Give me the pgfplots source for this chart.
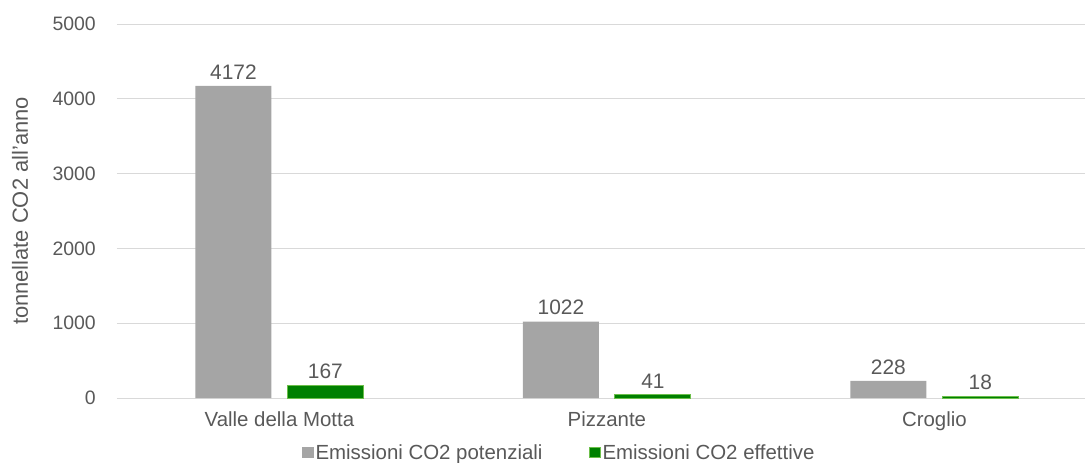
\documentclass[border=0pt]{standalone}
\usepackage{fontspec}
\setmainfont{Liberation Sans}
\usepackage{pgfplots}
\pgfplotsset{compat=1.18}
\definecolor{txt}{HTML}{595959}
\definecolor{gridc}{HTML}{D9D9D9}
\definecolor{barg}{HTML}{A5A5A5}
\definecolor{darkg}{HTML}{008000}
\definecolor{lightg}{HTML}{6CBF4A}
\begin{document}
\begin{tikzpicture}
\begin{axis}[
  at={(0,0)}, anchor=south west,
  scale only axis, width=968bp, height=374bp,
  xmin=-0.496, xmax=2.46, ymin=0, ymax=5000,
  ybar=16bp, bar width=76bp,
  ytick={0,1000,2000,3000,4000,5000},
  xtick={0,1,2},
  xticklabels={Valle della Motta,Pizzante,Croglio},
  axis line style={draw=none},
  major tick length=0pt,
  ymajorgrids, grid style={gridc, line width=1bp},
  /pgf/number format/1000 sep={},
  /pgf/number format/assume math mode=true,
  yticklabel style={font=\fontsize{19.5}{22}\selectfont, text=txt, anchor=east, inner sep=0pt, xshift=-21bp},
  xticklabel style={font=\fontsize{20.5}{23}\selectfont, text=txt, anchor=north, inner sep=0pt, yshift=-13bp},
  every axis y label/.style={at={(axis description cs:0,0.5)}, xshift=-97bp, anchor=center, rotate=90, font=\fontsize{22}{24}\selectfont, text=txt},
  ylabel={tonnellate CO2 all'anno},
  nodes near coords,
  every node near coord/.append style={font=\fontsize{21}{23}\selectfont, text=txt, yshift=3bp},
  legend columns=2,
  legend style={at={(0.4566,-0.147)}, anchor=center, draw=none, font=\fontsize{20.5}{22}\selectfont, text=txt,
    /tikz/every even column/.append style={column sep=44bp}, inner sep=0pt,
    nodes={inner sep=2bp}},
]
\addplot[fill=barg, draw=none, legend image code/.code={\fill[barg] (0bp,-5.5bp) rectangle (12bp,5.5bp);}] coordinates {(0,4172) (1,1022) (2,228)};
\addlegendentry{Emissioni CO2 potenziali}
\addplot[fill=darkg, draw=lightg, line width=1bp, legend image code/.code={\filldraw[fill=darkg, draw=lightg, line width=1bp] (0.5bp,-5bp) rectangle (11.5bp,5bp);}] coordinates {(0,167) (1,41) (2,18)};
\addlegendentry{Emissioni CO2 effettive}
\end{axis}
\pgfresetboundingbox
\path[use as bounding box] (-117bp,-65bp) rectangle (968bp,398bp);
\end{tikzpicture}
\end{document}
